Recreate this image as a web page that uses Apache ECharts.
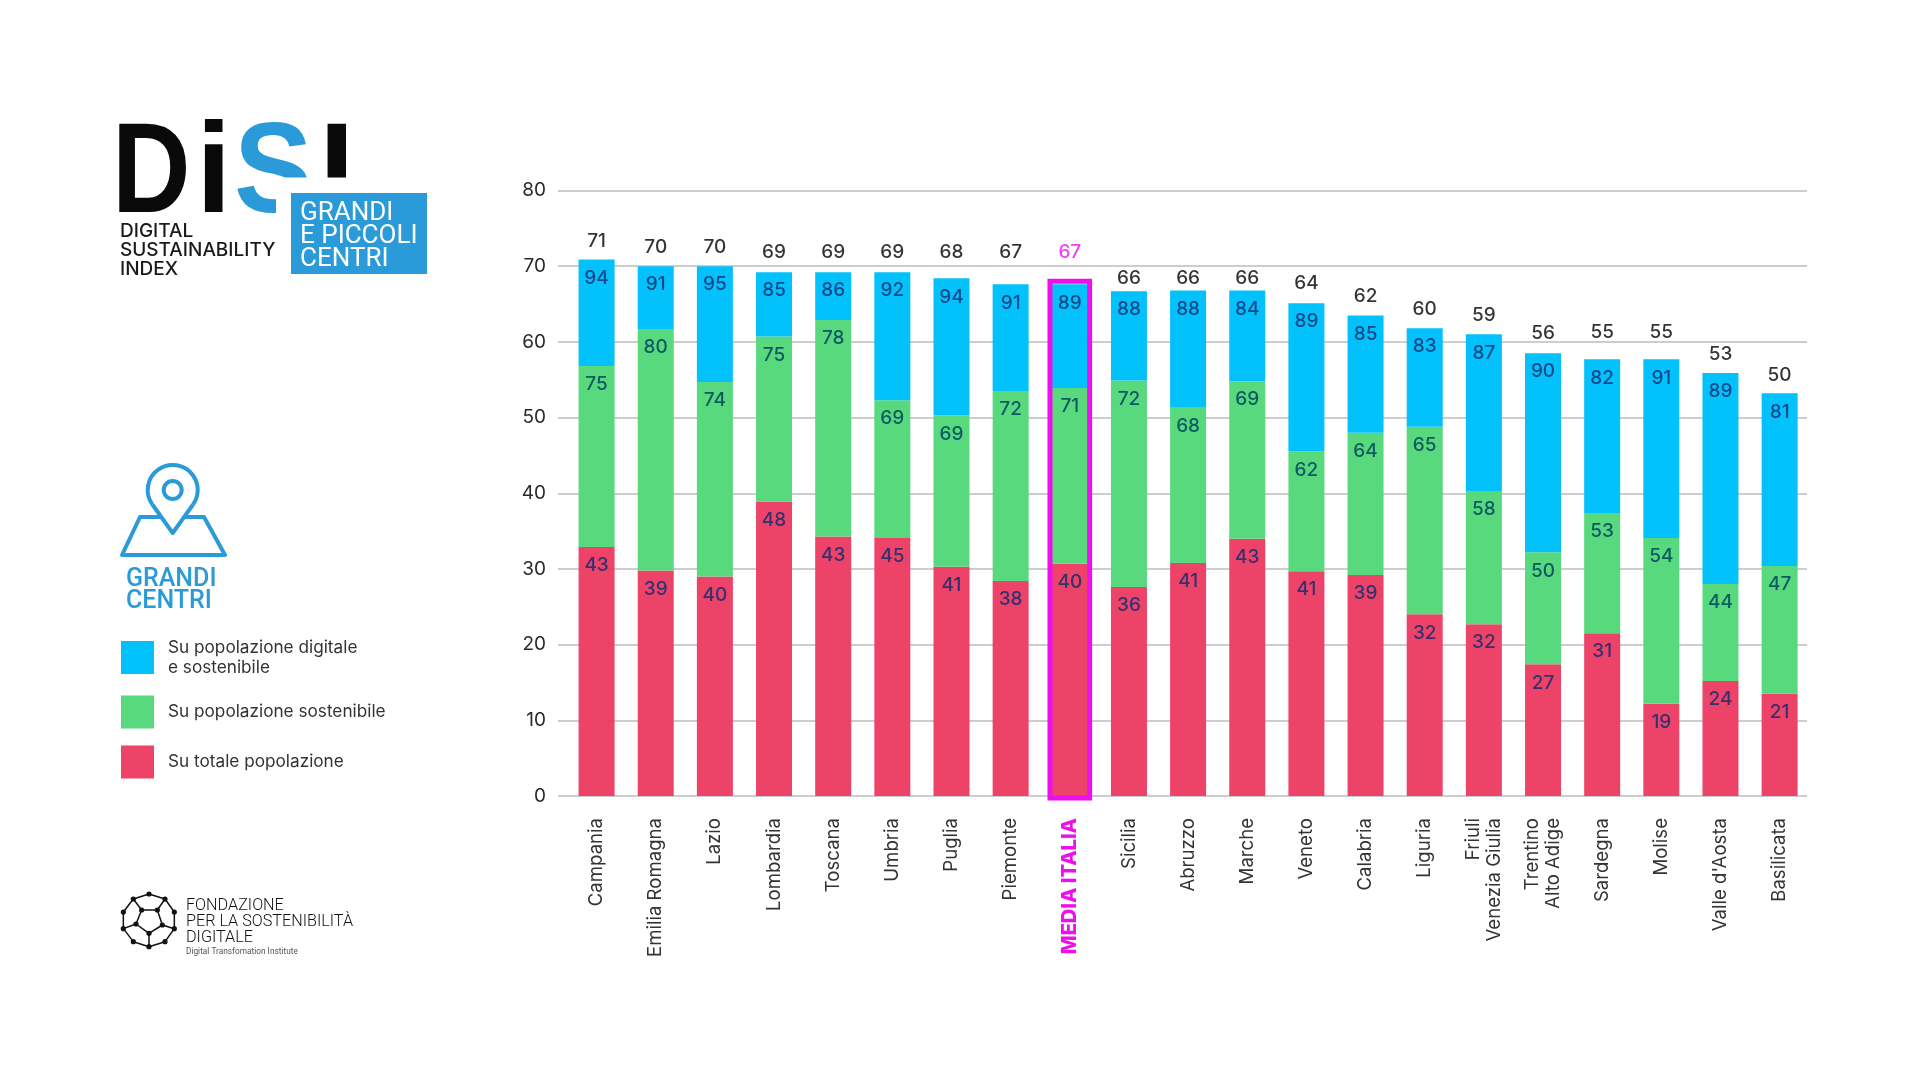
<!DOCTYPE html>
<html>
<head>
<meta charset="utf-8">
<script src="https://cdn.jsdelivr.net/npm/echarts@6/dist/echarts.min.js"></script>
<style>html,body{margin:0;padding:0;background:#fff}#c{width:1920px;height:1080px}</style>
</head>
<body>
<div id="c"></div>
<script>
const categories = ['Campania','Emilia Romagna','Lazio','Lombardia','Toscana','Umbria','Puglia','Piemonte','MEDIA ITALIA','Sicilia','Abruzzo','Marche','Veneto','Calabria','Liguria','Friuli\nVenezia Giulia','Trentino\nAlto Adige','Sardegna','Molise',"Valle d'Aosta",'Basilicata'];
// segment heights
const redHeights   = [32.9,29.8,29.0,38.9,34.3,34.1,30.3,28.4,30.7,27.6,30.8,34.0,29.7,29.2,24.0,22.7,17.4,21.5,12.2,15.2,13.5];
const greenHeights = [23.9,31.9,25.7,21.8,28.6,18.2,20.0,25.1,23.2,27.3,20.5,20.8,15.8,18.8,24.8,17.6,14.8,15.9,21.9,12.8,16.9];
const blueHeights  = [14.1,8.3,15.3,8.5,6.3,16.9,18.1,14.1,13.7,11.8,15.5,12.0,19.6,15.5,13.0,20.7,26.3,20.3,23.6,27.9,22.8];
// printed labels
const redLabels   = [43,39,40,48,43,45,41,38,40,36,41,43,41,39,32,32,27,31,19,24,21];
const greenLabels = [75,80,74,75,78,69,69,72,71,72,68,69,62,64,65,58,50,53,54,44,47];
const blueLabels  = [94,91,95,85,86,92,94,91,89,88,88,84,89,85,83,87,90,82,91,89,81];
const totalLabels = [71,70,70,69,69,69,68,67,67,66,66,66,64,62,60,59,56,55,55,53,50];
// level of the printed totals on the value scale
const totalLevels = [73.3,72.5,72.5,71.8,71.8,71.8,71.8,71.8,71.8,68.4,68.4,68.4,67.7,66.0,64.3,63.5,61.2,61.3,61.3,58.4,55.6];
const highlightName = 'MEDIA ITALIA';
const highlightSpan = [-0.25, 68];
const legendNames = ['Su popolazione digitale\ne sostenibile','Su popolazione sostenibile','Su totale popolazione'];

const BLUE='#03C1FA', GREEN='#58D97E', RED='#EE4369', MAGENTA='#EC10EC', BRAND='#2A9BD8';
const FONT='Inter';
const AX={top:190.5,bottom:284};

function stack(name,data,labels,color,labelColor){
  return {name,type:'bar',stack:'s',xAxisIndex:1,yAxisIndex:1,barWidth:36,
    data:data.map((v,i)=>({value:v,printed:labels[i]})),
    itemStyle:{color},
    label:{show:true,position:'insideTop',distance:9,fontFamily:FONT,fontSize:19,fontWeight:500,color:labelColor,
      formatter:p=>p.data.printed}};
}
const nodes=[[207,1332],[255,1347],[283,1386],[283,1436],[255,1475],[207,1490],[160,1475],[130,1436],[130,1386],[160,1347],[185,1380],[232,1380],[247,1425],[207,1450],[168,1422]]
  .map(p=>[80+p[0]/3,450+p[1]/3]);
const edges=[[0,1],[1,2],[2,3],[3,4],[4,5],[5,6],[6,7],[7,8],[8,9],[9,0],[10,11],[11,12],[12,13],[13,14],[14,10],[10,9],[11,1],[12,3],[13,5],[14,7]];
const txt=(x,y,text,font,size,weight,fill,extra)=>({type:'text',x,y,scaleX:(extra&&extra.sx)||1,style:{text,fontFamily:font,fontSize:size,fontWeight:weight,fill,verticalAlign:'middle',align:'left'}});
const LOGO='Liberation Sans';
const graphics=[
  // logo
  txt(112,177,'D',LOGO,128,700,'#0A0A0A',{sx:0.85}),
  txt(196,177,'i',LOGO,128,700,'#0A0A0A'),
  txt(234,177,'S',LOGO,128,700,BRAND,{sx:0.92}),
  txt(319,177,'I',LOGO,128,700,'#0A0A0A'),
  {type:'rect',shape:{x:276,y:177.5,width:160,height:50},style:{fill:'#fff'}},
  {type:'rect',shape:{x:291,y:193,width:136,height:81},style:{fill:BRAND}},
  txt(120,231,'DIGITAL',FONT,19,500,'#1a1a1a'),
  txt(120,250,'SUSTAINABILITY',FONT,19,500,'#1a1a1a'),
  txt(120,269,'INDEX',FONT,19,500,'#1a1a1a'),
  txt(300,213,'GRANDI','Roboto',26,400,'#fff'),
  txt(300,236,'E PICCOLI','Roboto',26,400,'#fff'),
  txt(300,259,'CENTRI','Roboto',26,400,'#fff'),
  // pin
  {type:'arc',shape:{cx:172.7,cy:490,r:25,startAngle:144.5*Math.PI/180,endAngle:395.5*Math.PI/180,clockwise:true},style:{stroke:BRAND,lineWidth:4,fill:null}},
  {type:'polyline',shape:{points:[[152.35,504.5],[172.7,533],[193.05,504.5]]},style:{stroke:BRAND,lineWidth:4,fill:null,lineJoin:'round'}},
  {type:'circle',shape:{cx:172.7,cy:490,r:9},style:{stroke:BRAND,lineWidth:4,fill:null}},
  {type:'polyline',shape:{points:[[161,517],[140,517],[122,555],[225,555],[204,517],[184,517]]},style:{stroke:BRAND,lineWidth:4,fill:null,lineJoin:'round'}},
  txt(126,580,'GRANDI','Roboto',25,500,BRAND),
  txt(126,602,'CENTRI','Roboto',25,500,BRAND),
  // foundation mark
  ...edges.map(e=>({type:'line',shape:{x1:nodes[e[0]][0],y1:nodes[e[0]][1],x2:nodes[e[1]][0],y2:nodes[e[1]][1]},style:{stroke:'#111',lineWidth:1.5}})),
  ...nodes.map(n=>({type:'circle',shape:{cx:n[0],cy:n[1],r:2.6},style:{fill:'#111'}})),
  txt(186,906,'FONDAZIONE','Roboto',16.2,300,'#111'),
  txt(186,922,'PER LA SOSTENIBILITÀ','Roboto',16.2,300,'#111'),
  txt(186,938,'DIGITALE','Roboto',16.2,300,'#111'),
  txt(186,952,'Digital Transfomation Institute','Roboto',8.3,400,'#555')
];

const chart=echarts.init(document.getElementById('c'),null,{renderer:'canvas'});
chart.setOption({
  animation:false,
  backgroundColor:'#fff',
  graphic:{elements:graphics},
  legend:{show:true,orient:'vertical',left:121,top:636.5,padding:0,itemWidth:33,itemHeight:33,itemGap:17,selectedMode:false,
    icon:'rect',data:legendNames,
    textStyle:{fontFamily:FONT,fontSize:17.2,lineHeight:20,color:'#333',padding:[2,0,0,9]}},
  grid:[
    {left:558,right:113,top:AX.top,bottom:AX.bottom},
    {left:567,width:1242.2,top:AX.top,bottom:AX.bottom}
  ],
  xAxis:[
    {type:'value',gridIndex:0,show:false,min:0,max:1},
    {type:'category',gridIndex:1,data:categories.map(c=>c===highlightName
        ?{value:c,textStyle:{color:MAGENTA,fontWeight:800,fontSize:20}}:c),
      axisLine:{show:false},axisTick:{show:false},
      axisLabel:{interval:0,rotate:90,margin:22,fontFamily:FONT,fontSize:18.6,lineHeight:21,color:'#333'}}
  ],
  yAxis:[
    {type:'value',gridIndex:0,min:0,max:80,interval:10,axisLine:{show:false},axisTick:{show:false},
      splitLine:{lineStyle:{color:'#BDBDBD',width:1.5}},
      axisLabel:{margin:12,fontFamily:FONT,fontSize:19,color:'#2a2a2a'}},
    {type:'value',gridIndex:1,min:0,max:80,interval:10,show:false,splitLine:{show:false}}
  ],
  series:[
    stack(legendNames[2],redHeights,redLabels,RED,'#33316E'),
    stack(legendNames[1],greenHeights,greenLabels,GREEN,'#0E5A62'),
    stack(legendNames[0],blueHeights,blueLabels,BLUE,'#0F4A8C'),
    {type:'scatter',xAxisIndex:1,yAxisIndex:1,symbolSize:1,itemStyle:{color:'transparent'},z:5,
      data:totalLevels.map((v,i)=>({value:[i,v],printed:totalLabels[i],
        label:{color:categories[i]===highlightName?MAGENTA:'#000'}})),
      label:{show:true,position:'inside',fontFamily:FONT,fontSize:19,fontWeight:500,formatter:p=>p.data.printed}},
    {type:'custom',xAxisIndex:1,yAxisIndex:1,z:6,clip:false,
      data:[[categories.indexOf(highlightName),highlightSpan[0],highlightSpan[1]]],
      encode:{x:0,y:[1,2]},
      renderItem:(params,api)=>{
        const lo=api.coord([api.value(0),api.value(1)]);
        const hi=api.coord([api.value(0),api.value(2)]);
        const w=api.size([1,0])[0]*0.67;
        return {type:'rect',shape:{x:lo[0]-w/2,y:hi[1],width:w,height:lo[1]-hi[1]},
          style:{fill:'none',stroke:MAGENTA,lineWidth:5}};
      }}
  ]
});
</script>
</body>
</html>
